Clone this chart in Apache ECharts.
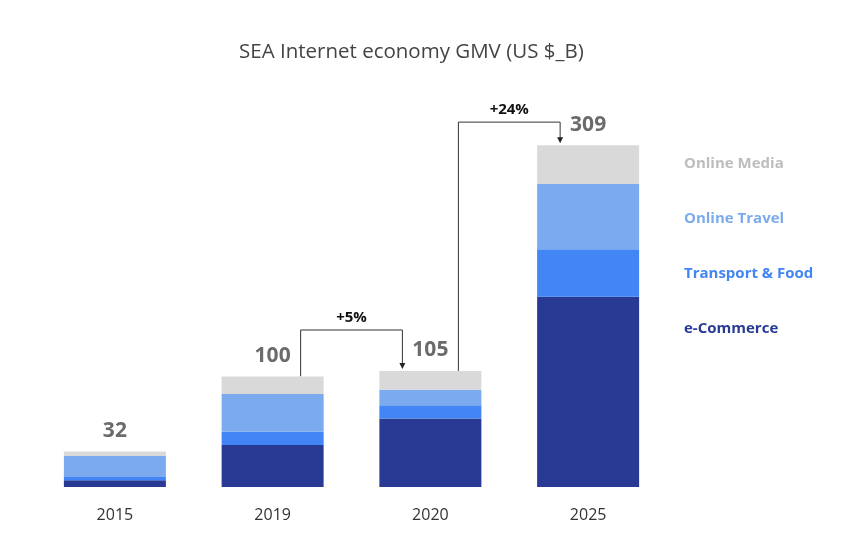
<!DOCTYPE html>
<html>
<head>
<meta charset="utf-8">
<script src="https://cdn.jsdelivr.net/npm/echarts@6/dist/echarts.min.js"></script>
<style>html,body{margin:0;padding:0;background:#fff}#c{width:850px;height:544px}</style>
</head>
<body>
<div id="c"></div>
<script>
const categories = ['2015', '2019', '2020', '2025'];
const eCommerce = [6, 38, 62, 172];
const transportFood = [3, 12, 12, 43];
const onlineTravel = [19, 34, 14, 59];
const onlineMedia = [4, 16, 17, 35];
const totals = [32, 100, 105, 309];
const growthNotes = [
  { from: 1, to: 2, text: '+5%', level: 142 },
  { from: 2, to: 3, text: '+24%', level: 330 }
];

const colors = {
  media: '#d9d9d9',
  travel: '#7babee',
  transport: '#4285f4',
  ecom: '#283a93'
};
const FONT = '"Open Sans", Roboto, sans-serif';

const chart = echarts.init(document.getElementById('c'), null, { renderer: 'canvas' });

function series(name, data, color, withTotal) {
  const s = {
    name: name, type: 'bar', stack: 'gmv', data: data, barWidth: 102,
    itemStyle: { color: color }, emphasis: { disabled: true }
  };
  if (withTotal) {
    s.label = {
      show: true, position: 'top', distance: 10,
      formatter: p => String(totals[p.dataIndex]),
      fontFamily: FONT, fontSize: 21, fontWeight: 'bold', color: '#6b6b6b'
    };
  }
  return s;
}

chart.setOption({
  animation: false,
  title: {
    text: 'SEA Internet economy GMV (US $_B)',
    left: 234, top: 37,
    textStyle: { fontFamily: FONT, fontSize: 20.5, fontWeight: 'normal', color: '#444' }
  },
  legend: {
    orient: 'vertical', left: 674, top: 151,
    icon: 'none', itemWidth: 0, itemHeight: 14, itemGap: 40,
    selectedMode: false,
    data: [
      { name: 'Online Media', textStyle: { color: '#bdbdbd' } },
      { name: 'Online Travel', textStyle: { color: '#7babee' } },
      { name: 'Transport & Food', textStyle: { color: '#4285f4' } },
      { name: 'e-Commerce', textStyle: { color: '#283a93' } }
    ],
    textStyle: { fontFamily: FONT, fontSize: 15, fontWeight: 'bold', padding: 0 }
  },
  grid: { left: 36, right: 183, top: 100, bottom: 57 },
  xAxis: {
    type: 'category', data: categories,
    axisLine: { show: false }, axisTick: { show: false },
    axisLabel: { fontFamily: FONT, fontSize: 16, color: '#333', margin: 20 }
  },
  yAxis: { type: 'value', min: 0, max: 350, show: false, splitLine: { show: false } },
  series: [
    series('e-Commerce', eCommerce, colors.ecom),
    series('Transport & Food', transportFood, colors.transport),
    series('Online Travel', onlineTravel, colors.travel),
    series('Online Media', onlineMedia, colors.media, true)
  ]
});

// growth brackets
const g = [];
const off = 28;
growthNotes.forEach(n => {
  const a = chart.convertToPixel({ gridIndex: 0 }, [n.from, totals[n.from]]);
  const b = chart.convertToPixel({ gridIndex: 0 }, [n.to, totals[n.to]]);
  const lvl = chart.convertToPixel({ gridIndex: 0 }, [n.from, n.level])[1];
  const x1 = a[0] + off, x2 = b[0] - off;
  const tipY = b[1] - 2;
  g.push({
    type: 'polyline', silent: true,
    shape: { points: [[x1, a[1]], [x1, lvl], [x2, lvl], [x2, tipY - 5]] },
    style: { stroke: '#333', lineWidth: 1, fill: null }
  });
  g.push({
    type: 'polygon', silent: true,
    shape: { points: [[x2 - 3, tipY - 6], [x2 + 3, tipY - 6], [x2, tipY]] },
    style: { fill: '#222' }
  });
  g.push({
    type: 'text', silent: true,
    x: (x1 + x2) / 2, y: lvl - 12,
    style: { text: n.text, fontFamily: FONT, fontSize: 15, fontWeight: 'bold', fill: '#111', align: 'center', verticalAlign: 'middle' }
  });
});
chart.setOption({ graphic: g });
</script>
</body>
</html>
